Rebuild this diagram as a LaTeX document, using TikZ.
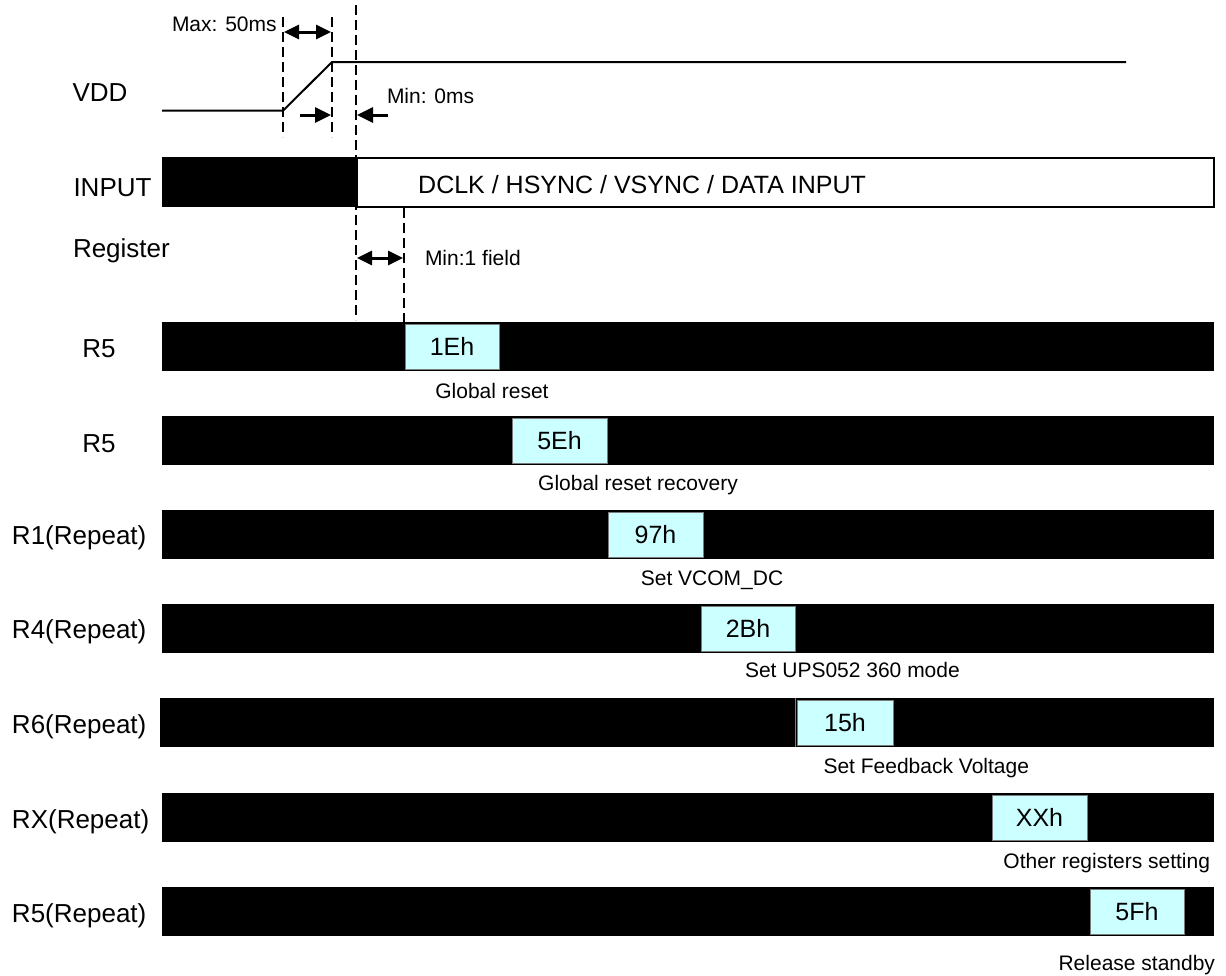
\documentclass[tikz,border=0pt]{standalone}
\usepackage{fontspec}
\setmainfont{Liberation Sans}
\usetikzlibrary{arrows.meta}
\definecolor{boxcyan}{HTML}{CCFFFF}
\definecolor{boxedge}{HTML}{7A7A7A}
\begin{document}
\begin{tikzpicture}[x=1pt,y=-1pt,
  biglbl/.style={font=\fontsize{26}{30}\selectfont, inner sep=0pt, outer sep=0pt},
  small/.style={font=\fontsize{21}{25}\selectfont, inner sep=0pt, outer sep=0pt},
  bar/.style={fill=black, inner sep=0pt, outer sep=0pt, minimum height=49pt, anchor=north west},
  cell/.style={fill=boxcyan, draw=boxedge, line width=0.8pt, inner sep=0pt, outer sep=0pt,
               minimum width=94pt, minimum height=45pt, anchor=west,
               font=\fontsize{25}{29}\selectfont},
  dashline/.style={line width=2.8pt, dash pattern=on 10pt off 5pt},
  sig/.style={line width=2pt},
  onearrow/.style={line width=3pt, -{Triangle[length=16pt,width=15pt]}},
  twoarrow/.style={line width=3pt, {Triangle[length=15pt,width=14pt]}-{Triangle[length=15pt,width=14pt]}},
]
\useasboundingbox (0,0) rectangle (1226,975);

% ---- dashed timing guides ----
\coordinate (g1t) at (283,17);  \coordinate (g1b) at (283,137);
\coordinate (g2t) at (332,17);  \coordinate (g2b) at (332,137);
\coordinate (g3t) at (356,5);   \coordinate (g3b) at (356,320);
\coordinate (g4t) at (404,208); \coordinate (g4b) at (404,322);
\draw[dashline] (g1t) -- (g1b);
\draw[dashline] (g2t) -- (g2b);
\draw[dashline] (g3t) -- (g3b);
\draw[dashline] (g4t) -- (g4b);

% ---- VDD ----
\node[biglbl, anchor=base] (vddlbl) at (100,101) {VDD};
\coordinate (vs) at (162,110.7);
\coordinate (r0) at (283,110.7);
\coordinate (r1) at (332,62);
\coordinate (ve) at (1126,62);
\draw[sig] (vs) -- (r0) -- (r1) -- (ve);

\node[small, anchor=base west] (maxlbl) at (172,31.7) {Max: 50ms};
\coordinate (m1) at (284,32); \coordinate (m2) at (331,32);
\draw[twoarrow] (m1) -- (m2);

\coordinate (p1) at (300,115); \coordinate (p2) at (331,115);
\draw[onearrow] (p1) -- (p2);
\coordinate (q1) at (388,115); \coordinate (q2) at (357,115);
\draw[onearrow] (q1) -- (q2);
\node[small, anchor=base west] (minlbl) at (387,103.3) {Min: 0ms};

% ---- INPUT ----
\node[biglbl, anchor=base] (inputlbl) at (112.5,196.7) {INPUT};
\node[bar, minimum width=194pt, minimum height=50pt] (inblack) at (162,157) {};
\node[draw=black, line width=2pt, fill=white, inner sep=0pt, outer sep=0pt,
      minimum width=857pt, minimum height=49pt, anchor=north west] (inwhite) at (356.5,157.5) {};
\node[font=\fontsize{25}{29}\selectfont, inner sep=0pt, anchor=base west] (intext) at (418,193.3)
  {DCLK / HSYNC / VSYNC / DATA INPUT};

% ---- Register ----
\node[biglbl, anchor=base west] (reglbl) at (73,257) {Register};
\coordinate (f1) at (357,258); \coordinate (f2) at (403,258);
\draw[twoarrow] (f1) -- (f2);
\node[small, anchor=base west] (fieldlbl) at (425,265.5) {Min:1 field};

% ---- register rows ----
% row 1
\node[biglbl, anchor=base] (rl1) at (99,357.5) {R5};
\node[bar, minimum width=1052pt] (b1) at (162,322) {};
\node[cell] (c1) at (405,346.5) {1Eh};
\node[small, anchor=base] (t1) at (492,398) {Global reset};
% row 2
\node[biglbl, anchor=base] (rl2) at (99,452.5) {R5};
\node[bar, minimum width=1052pt] (b2) at (162,416) {};
\node[cell, minimum width=95pt] (c2) at (512,440.5) {5Eh};
\node[small, anchor=base] (t2) at (638,490.5) {Global reset recovery};
% row 3
\node[biglbl, anchor=base west] (rl3) at (12,544) {R1(Repeat)};
\node[bar, minimum width=1052pt] (b3) at (162,510) {};
\node[cell, minimum width=95pt] (c3) at (608,534.5) {97h};
\node[small, anchor=base] (t3) at (712,585) {Set VCOM\_DC};
% row 4
\node[biglbl, anchor=base west] (rl4) at (12,638.3) {R4(Repeat)};
\node[bar, minimum width=1052pt] (b4) at (162,604) {};
\node[cell] (c4) at (701,628.5) {2Bh};
\node[small, anchor=base west] (t4) at (745,677) {Set UPS052 360 mode};
% row 5
\node[biglbl, anchor=base west] (rl5) at (12,733) {R6(Repeat)};
\node[bar, minimum width=1054pt] (b5) at (160,698) {};
\draw[boxedge, line width=0.8pt] ([xshift=635.5pt]b5.north west) -- ([xshift=635.5pt]b5.south west);
\node[cell, minimum width=96pt] (c5) at (797,722.5) {15h};
\node[small, anchor=base east] (t5) at (1029,773) {Set Feedback Voltage};
% row 6
\node[biglbl, anchor=base west] (rl6) at (12,828) {RX(Repeat)};
\node[bar, minimum width=1052pt] (b6) at (162,793) {};
\node[cell, minimum width=95pt] (c6) at (992,817.5) {XXh};
\node[small, anchor=base east] (t6) at (1210,868) {Other registers setting};
% row 7
\node[biglbl, anchor=base west] (rl7) at (12,922) {R5(Repeat)};
\node[bar, minimum width=1052pt] (b7) at (162,887) {};
\node[cell] (c7) at (1090,911.5) {5Fh};
\node[small, anchor=base east] (t7) at (1215,970) {Release standby};
\end{tikzpicture}
\end{document}
